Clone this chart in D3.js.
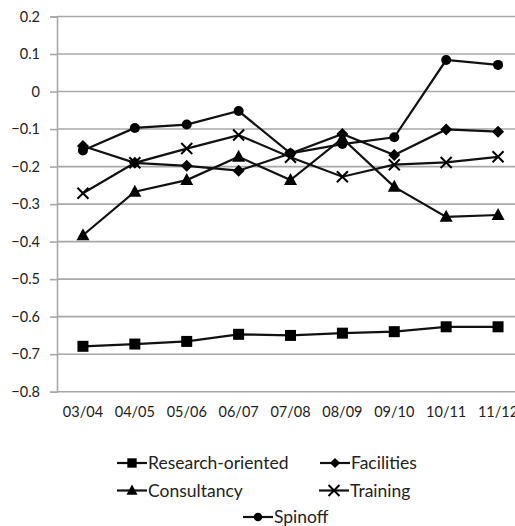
<!DOCTYPE html>
<html><head><meta charset="utf-8">
<script src="https://cdn.jsdelivr.net/npm/d3@7"></script>
<style>body{margin:0;background:#fff}svg{display:block}text{font-family:Lato,"Open Sans",sans-serif;fill:#222}</style>
</head><body><div id="chart"></div>
<script>
const categories = ["03/04","04/05","05/06","06/07","07/08","08/09","09/10","10/11","11/12"];
const researchOriented = [-0.679,-0.673,-0.666,-0.647,-0.650,-0.644,-0.640,-0.627,-0.627];
const facilities = [-0.145,-0.190,-0.198,-0.211,-0.165,-0.113,-0.169,-0.101,-0.107];
const consultancy = [-0.383,-0.267,-0.236,-0.174,-0.236,-0.125,-0.254,-0.334,-0.329];
const training = [-0.271,-0.190,-0.152,-0.116,-0.175,-0.227,-0.195,-0.189,-0.174];
const spinoff = [-0.157,-0.097,-0.088,-0.052,-0.165,-0.140,-0.122,0.084,0.071];
const yTicks = [0.2,0.1,0,-0.1,-0.2,-0.3,-0.4,-0.5,-0.6,-0.7,-0.8];
const seriesNames = ["Research-oriented","Facilities","Consultancy","Training","Spinoff"];
const seriesSymbols = ["square","diamond","triangle","cross","circle"];

const series = [researchOriented, facilities, consultancy, training, spinoff]
  .map((v,i)=>({name:seriesNames[i], symbol:seriesSymbols[i], values:v}));

const W=515,H=526;
const svg=d3.select("#chart").append("svg").attr("width",W).attr("height",H);
const m={left:57,top:16.5,right:-9,bottom:134.3};
const x=d3.scaleBand().domain(categories).range([m.left,W-m.right]);
const y=d3.scaleLinear().domain([-0.8,0.2]).range([H-m.bottom,m.top]);

const gAxisY=svg.append("g").attr("transform",`translate(${m.left},0)`)
  .call(d3.axisLeft(y).tickValues(yTicks).tickSize(7).tickPadding(10).tickFormat(d=>d===0?"0":d3.format(".1f")(d)));
gAxisY.select(".domain").attr("stroke","#a8a8a8").attr("stroke-width",1.6);
gAxisY.selectAll(".tick line").attr("stroke","#a8a8a8").attr("stroke-width",1.6);
gAxisY.selectAll(".tick text").attr("font-size",14.5).style("font-family","Lato").attr("fill","#222");
svg.append("g").selectAll("line").data(yTicks).join("line")
  .attr("x1",m.left).attr("x2",W-m.right).attr("y1",d=>y(d)).attr("y2",d=>y(d))
  .attr("stroke","#a8a8a8").attr("stroke-width",1.6);

const gAxisX=svg.append("g").attr("transform",`translate(0,${y(-0.8)})`)
  .call(d3.axisBottom(x).tickSize(0).tickPadding(15));
gAxisX.select(".domain").remove();
gAxisX.selectAll(".tick text").attr("font-size",14.5).style("font-family","Lato").attr("fill","#222");

const cx=d=>x(d)+x.bandwidth()/2;
const line=d3.line().x((d,i)=>cx(categories[i])).y(d=>y(d));

function marker(g,sym,px,py,s){
  s=s||1;
  if(sym==="square") g.append("rect").attr("x",px-5.5*s).attr("y",py-5.5*s).attr("width",11*s).attr("height",11*s).attr("fill","#000");
  else if(sym==="diamond") g.append("path").attr("d",`M${px},${py-6*s}L${px+6*s},${py}L${px},${py+6*s}L${px-6*s},${py}Z`).attr("fill","#000");
  else if(sym==="triangle") g.append("path").attr("d",`M${px},${py-7*s}L${px+6.5*s},${py+5*s}L${px-6.5*s},${py+5*s}Z`).attr("fill","#000");
  else if(sym==="circle") g.append("circle").attr("cx",px).attr("cy",py).attr("r",5*s).attr("fill","#000");
  else if(sym==="cross") g.append("path").attr("d",`M${px-5.5*s},${py-5.5*s}L${px+5.5*s},${py+5.5*s}M${px-5.5*s},${py+5.5*s}L${px+5.5*s},${py-5.5*s}`).attr("stroke","#000").attr("stroke-width",2);
}

series.forEach(s=>{
  const g=svg.append("g");
  g.append("path").datum(s.values).attr("d",line).attr("fill","none").attr("stroke","#111").attr("stroke-width",2.2);
  s.values.forEach((v,i)=>marker(g,s.symbol,cx(categories[i]),y(v)));
});

const legendPos=[[117,463],[320,463],[117,490.5],[319,490.5],[243,517]];
series.forEach((s,i)=>{
  const [lx,ly]=legendPos[i];
  const g=svg.append("g");
  g.append("line").attr("x1",lx).attr("x2",lx+30).attr("y1",ly).attr("y2",ly).attr("stroke","#111").attr("stroke-width",2.2);
  marker(g,s.symbol,lx+15,ly,s.symbol==="cross"?1:0.85);
  g.append("text").attr("x",lx+31).attr("y",ly).attr("dy","0.35em").attr("font-size",17.5).style("font-family","Lato").text(s.name);
});
</script></body></html>
